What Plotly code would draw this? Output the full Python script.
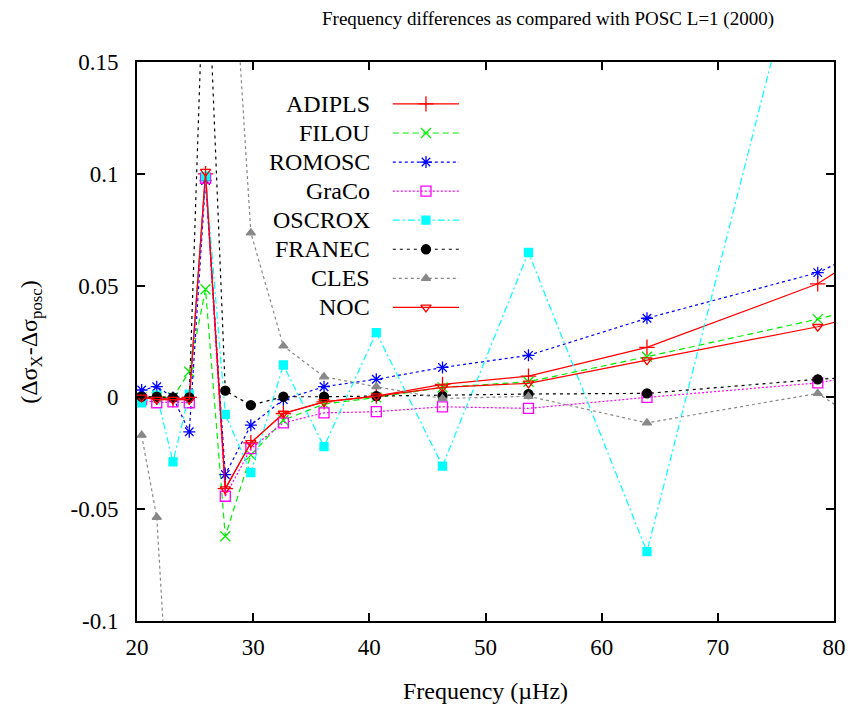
import plotly.graph_objects as go

freq = [20.4, 21.7, 23.1, 24.5, 25.9, 27.6, 29.8, 32.6, 36.1, 40.6, 46.3, 53.7, 63.9, 78.6, 96.0]

adipls = [0.000, 0.000, -0.001, 0.000, 0.100, -0.0408, -0.0203, -0.0072, -0.0020, 0.0006, 0.0058, 0.0095, 0.0224, 0.0508, 0.110]
filou  = [0.000, 0.000, 0.000, 0.0115, 0.0484, -0.0621, -0.0258, -0.0102, -0.0030, 0.0000, 0.0045, 0.0070, 0.0182, 0.0350, 0.059]
romosc = [0.0033, 0.0048, 0.000, -0.0154, 0.0970, -0.0345, -0.0124, -0.0010, 0.0048, 0.0081, 0.0134, 0.0188, 0.0354, 0.0558, 0.099]
graco  = [-0.0010, -0.0024, -0.0020, -0.0024, 0.0980, -0.0442, -0.0229, -0.0114, -0.0069, -0.0064, -0.0042, -0.0049, 0.0000, 0.0065, 0.022]
oscrox = [-0.0024, 0.0010, -0.0288, 0.0015, 0.0990, -0.0076, -0.0336, 0.0145, -0.0220, 0.0290, -0.0307, 0.0648, -0.0690, 0.232, 0.05]
franec = [0.0003, 0.0003, 0.0000, 0.0000, 0.220, 0.0030, -0.0035, 0.0003, 0.0003, 0.0006, 0.0007, 0.0015, 0.0018, 0.0081, 0.013]
cles   = [-0.0169, -0.0536, -0.176, None, None, 0.257, 0.0736, 0.0230, 0.0092, 0.0048, -0.0005, 0.0005, -0.0114, 0.0018, -0.057]
noc    = [0.000, -0.001, -0.001, -0.001, 0.101, -0.0410, -0.0203, -0.0072, -0.0020, 0.0006, 0.0045, 0.0063, 0.0167, 0.0316, 0.056]

names = ["ADIPLS", "FILOU", "ROMOSC", "GraCo", "OSCROX", "FRANEC", "CLES", "NOC"]
series = [adipls, filou, romosc, graco, oscrox, franec, cles, noc]
colors = ["#ff0000", "#00ee00", "#0000ff", "#ff00ff", "#00ffff", "#000000", "#888888", "#ff0000"]
dashes = ["solid", "6px,4px", "3px,3px", "2px,2px", "7px,3px,2px,3px", "3px,4px", "3px,3px", "solid"]
symbols = ["cross-thin-open", "x-thin-open", "asterisk-open", "square-open", "square", "circle", "triangle-up", "triangle-down-open"]
msizes = [11, 10, 10, 10, 8, 9, 8, 9]

xticks = [20, 30, 40, 50, 60, 70, 80]
yticks = [-0.1, -0.05, 0, 0.05, 0.1, 0.15]
ytick_text = ["-0.1", "-0.05", "0", "0.05", "0.1", "0.15"]

FONT = "Liberation Serif"

fig = go.Figure()
for n, s, c, d, sym, ms in zip(names, series, colors, dashes, symbols, msizes):
    fig.add_trace(go.Scatter(
        x=freq, y=s, mode="lines+markers", name=n,
        line=dict(color=c, width=1.2, dash=d),
        marker=dict(symbol=sym, size=ms, color=c, line=dict(color=c, width=1.3)),
        showlegend=False, connectgaps=False, cliponaxis=True,
    ))

# custom legend (text left, sample right, as in the reference)
leg_y0 = 0.925
leg_dy = 0.052
for i, (n, c, d, sym, ms) in enumerate(zip(names, colors, dashes, symbols, msizes)):
    yy = leg_y0 - i * leg_dy
    fig.add_trace(go.Scatter(
        x=[0.367, 0.462], y=[yy, yy], mode="lines", xaxis="x2", yaxis="y2",
        line=dict(color=c, width=1.2, dash=d), showlegend=False, hoverinfo="skip"))
    fig.add_trace(go.Scatter(
        x=[0.4146], y=[yy], mode="markers", xaxis="x2", yaxis="y2",
        marker=dict(symbol=sym, size=ms, color=c, line=dict(color=c, width=1.3)),
        showlegend=False, hoverinfo="skip"))
    fig.add_annotation(x=0.337, y=yy, xref="x2", yref="y2", text=n, showarrow=False,
                       xanchor="right", yanchor="middle",
                       font=dict(family=FONT, size=24, color="black"))

fig.add_annotation(x=0.59, y=1.077, xref="paper", yref="paper",
                   text="Frequency differences as compared with POSC L=1 (2000)",
                   showarrow=False, xanchor="center", yanchor="middle",
                   font=dict(family=FONT, size=19, color="black"))
fig.add_annotation(x=0.5, y=-0.125, xref="paper", yref="paper",
                   text="Frequency (µHz)", showarrow=False,
                   xanchor="center", yanchor="middle",
                   font=dict(family=FONT, size=24, color="black"))
fig.add_annotation(x=-0.153, y=0.5, xref="paper", yref="paper",
                   text="(Δσ<sub>X</sub>-Δσ<sub>posc</sub>)", showarrow=False, textangle=-90,
                   xanchor="center", yanchor="middle",
                   font=dict(family=FONT, size=24, color="black"))

axis_common = dict(showgrid=False, zeroline=False, showline=True, linecolor="black",
                   linewidth=2, mirror="allticks", ticks="inside", ticklen=8,
                   tickwidth=1.5, tickcolor="black", automargin=False,
                   tickfont=dict(family=FONT, size=23, color="black"))

fig.update_layout(
    width=851, height=711,
    font=dict(family=FONT, color="black"),
    margin=dict(l=137, r=17, t=62, b=90, autoexpand=False),
    paper_bgcolor="white", plot_bgcolor="white",
    xaxis=dict(range=[20, 80], tickvals=xticks, ticklabelstandoff=4, **axis_common),
    yaxis=dict(range=[-0.1, 0.15], tickvals=yticks, ticktext=ytick_text, ticklabelstandoff=12, **axis_common),
    xaxis2=dict(range=[0, 1], overlaying="x", visible=False),
    yaxis2=dict(range=[0, 1], overlaying="y", visible=False),
    showlegend=False,
)

fig.write_html("out.html")
